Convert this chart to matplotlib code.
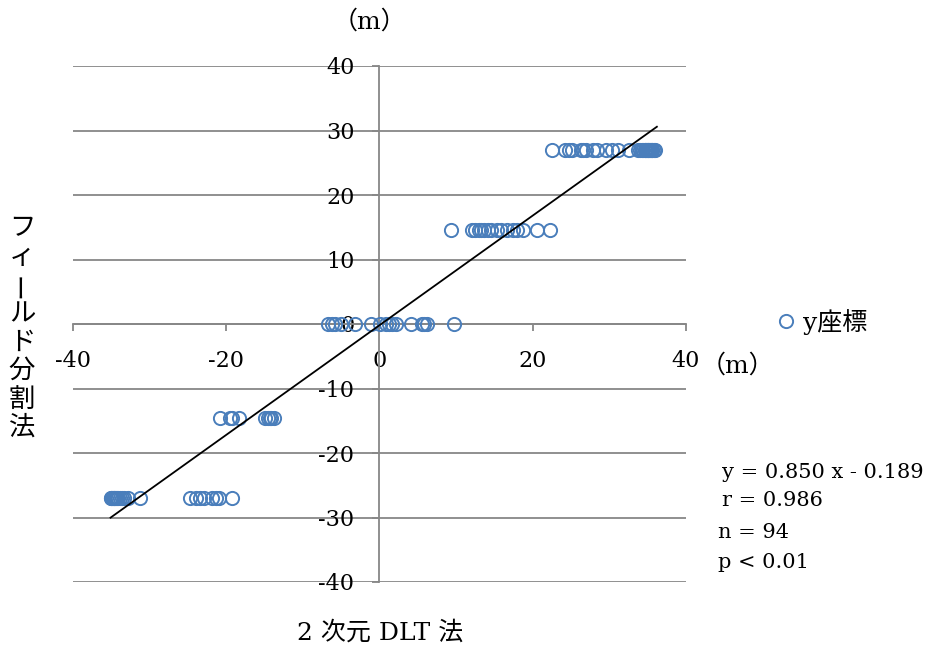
import numpy as np
import matplotlib.pyplot as plt
from matplotlib.lines import Line2D

plt.rcParams['font.family'] = ['DejaVu Serif', 'Noto Sans CJK JP']
plt.rcParams['axes.unicode_minus'] = False

# 2次元DLT法 (x) と フィールド分割法 (y) の座標, 単位 m
x_27 = [22.5, 24.2, 24.7, 25.1, 26.3, 26.6, 27.0, 27.9, 28.4, 29.6, 30.4, 31.1, 32.6, 33.7, 34.0,
        34.2, 34.4, 34.6, 34.7, 34.8, 34.9, 35.0, 35.1, 35.2, 35.3, 35.4, 35.5, 35.6, 35.8, 36.0]
x_15 = [9.3, 12.1, 12.5, 13.0, 13.3, 13.6, 14.1, 14.6, 15.3, 15.9, 16.6, 17.4, 18.0, 18.7, 20.5, 22.2]
x_0 = [-6.7, -6.2, -5.8, -5.0, -3.2, -1.1, 0.1, 0.8, 1.2, 1.6, 2.2, 4.1, 5.5, 5.8, 6.2, 9.7]
x_m15 = [-20.8, -19.5, -19.3, -18.3, -14.9, -14.6, -14.3, -14.1, -13.8]
x_m27 = [-35.1, -35.0, -34.9, -34.8, -34.7, -34.6, -34.5, -34.4, -34.3, -34.1, -33.9, -33.6,
         -33.4, -32.8, -31.2, -24.7, -24.0, -23.4, -22.9, -21.8, -21.4, -21.0, -19.2]
y_levels = [27.0, 14.6, 0.0, -14.6, -27.0]

slope, intercept = 0.850, -0.189
line_x = [-35.1, 36.2]
ticks = [-40, -30, -20, -10, 0, 10, 20, 30, 40]
xticks = [-40, -20, 0, 20, 40]

xs = np.concatenate([x_27, x_15, x_0, x_m15, x_m27])
ys = np.concatenate([np.full(len(g), lv) for g, lv in zip([x_27, x_15, x_0, x_m15, x_m27], y_levels)])

fig = plt.figure(figsize=(9.26, 6.5), dpi=100)
ax = fig.add_axes([73 / 926, 1 - 582 / 650, 613 / 926, 516 / 650])

grey = '#878787'
blue = '#4a7ebb'

ax.set_xlim(-40, 40)
ax.set_ylim(-40, 40)
ax.set_yticks(ticks)
ax.set_xticks(xticks)
ax.set_yticklabels([str(t) for t in ticks])
ax.set_xticklabels([str(t) for t in xticks])

for t in ticks:
    ax.axhline(t, color=grey, lw=1.3, zorder=0)

for s in ['top', 'right']:
    ax.spines[s].set_visible(False)
ax.spines['left'].set_position(('data', 0))
ax.spines['bottom'].set_position(('data', 0))
for s in ['left', 'bottom']:
    ax.spines[s].set_color(grey)
    ax.spines[s].set_linewidth(1.3)

ax.tick_params(axis='both', colors=grey, length=5, width=1.3, labelcolor='black', labelsize=16)
ax.tick_params(axis='y', pad=13)
ax.tick_params(axis='x', pad=14)

ax.plot(xs, ys, 'o', ms=9.5, mfc='none', mec=blue, mew=1.4, ls='none', zorder=3)

lx = np.array(line_x)
ax.plot(lx, slope * lx + intercept, color='black', lw=1.3, zorder=4)

handle = Line2D([], [], marker='o', ls='none', ms=9.5, mfc='none', mec=blue, mew=1.4)
fig.legend([handle], ['y座標'], loc='center left', bbox_to_anchor=(758 / 926, 1 - 322 / 650),
           frameon=False, fontsize=18, handletextpad=0.1, borderpad=0, handlelength=1.2)

# 単位
fig.text(369 / 926, 1 - 22 / 650, '（m）', ha='center', va='center', fontsize=18)
fig.text(737 / 926, 1 - 366 / 650, '（m）', ha='center', va='center', fontsize=18)

# 軸ラベル
fig.text(380 / 926, 1 - 633 / 650, '2 次元 DLT 法', ha='center', va='center', fontsize=18)
ylabel = 'フィールド分割法'
for i, ch in enumerate(ylabel):
    yy = 228 + i * 28.5
    rot = 90 if ch == 'ー' else 0
    fig.text(22 / 926, 1 - yy / 650, ch, ha='center', va='center', fontsize=19, rotation=rot)

# 回帰式と統計量
stats = [(722, 472, f'y = {slope:.3f} x - {abs(intercept):.3f}'),
         (722, 501, 'r = 0.986'),
         (718, 533, 'n = 94'),
         (718, 563, 'p < 0.01')]
for sx, sy, s in stats:
    fig.text(sx / 926, 1 - sy / 650, s, ha='left', va='center', fontsize=15)

fig.savefig('out.png', dpi=100)
